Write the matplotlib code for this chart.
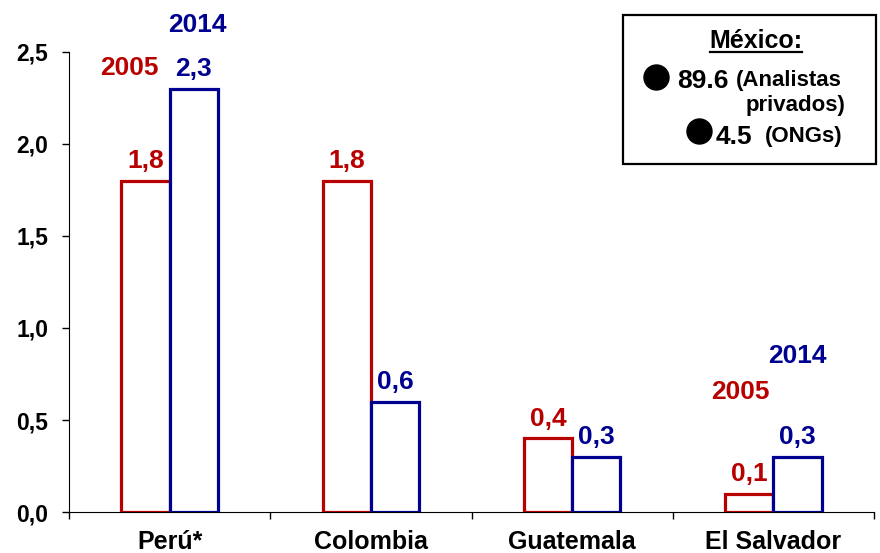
import numpy as np
import matplotlib.pyplot as plt
from matplotlib.lines import Line2D
from matplotlib.patches import Rectangle

plt.rcParams['font.family'] = ['Liberation Sans', 'DejaVu Sans']
plt.rcParams['font.weight'] = 'bold'

paises = ['Perú*', 'Colombia', 'Guatemala', 'El Salvador']
v2005 = [1.8, 1.8, 0.4, 0.1]
v2014 = [2.3, 0.6, 0.3, 0.3]
etiq_2005 = ['1,8', '1,8', '0,4', '0,1']
etiq_2014 = ['2,3', '0,6', '0,3', '0,3']
yticks = [0.0, 0.5, 1.0, 1.5, 2.0, 2.5]
ytick_labels = ['0,0', '0,5', '1,0', '1,5', '2,0', '2,5']

rojo = '#B80000'
azul = '#000090'

fig = plt.figure(figsize=(8.8, 5.53), dpi=100)
ax = fig.add_axes([0.0784, 0.0741, 0.9148, 0.832])

x = np.arange(len(paises))
w = 0.24
ax.bar(x - w / 2, v2005, w, facecolor='white', edgecolor=rojo, linewidth=2.3, zorder=3)
ax.bar(x + w / 2, v2014, w, facecolor='white', edgecolor=azul, linewidth=2.3, zorder=3)

for i in range(len(paises)):
    ax.annotate(etiq_2005[i], (x[i] - w / 2, v2005[i]), xytext=(0, 9), textcoords='offset points',
                ha='center', va='baseline', color=rojo, fontsize=19, fontweight='bold')
    ax.annotate(etiq_2014[i], (x[i] + w / 2, v2014[i]), xytext=(0, 9), textcoords='offset points',
                ha='center', va='baseline', color=azul, fontsize=19, fontweight='bold')

# series names next to the first and last group
ax.text(x[0] - w / 2 - 0.08, 2.424, '2005', color=rojo, fontsize=19, ha='center', va='center_baseline')
ax.text(x[0] + w / 2 + 0.016, 2.658, '2014', color=azul, fontsize=19, ha='center', va='center_baseline',
        clip_on=False)
ax.text(x[3] - w / 2 - 0.046, 0.668, '2005', color=rojo, fontsize=19, ha='center', va='center_baseline')
ax.text(x[3] + w / 2 - 0.003, 0.859, '2014', color=azul, fontsize=19, ha='center', va='center_baseline')

ax.set_xlim(-0.5, len(paises) - 0.5)
ax.set_ylim(0, 2.5)
ax.set_yticks(yticks)
ax.set_yticklabels(ytick_labels, fontsize=16.5, fontweight='bold')
ax.set_xticks(np.arange(len(paises) + 1) - 0.5)
ax.set_xticklabels([])
ax.set_xticks(x, minor=True)
ax.set_xticklabels(paises, minor=True, fontsize=18, fontweight='bold')
ax.tick_params(axis='x', which='minor', length=0, pad=13)
ax.tick_params(axis='x', which='major', direction='out', length=5, width=1)
ax.tick_params(axis='y', direction='out', length=5, width=1, pad=10)
for s in ['top', 'right']:
    ax.spines[s].set_visible(False)

# Mexico box
fig.patches.append(Rectangle((623 / 880, 1 - 164 / 553), 253 / 880, 149 / 553,
                             transform=fig.transFigure, facecolor='white',
                             edgecolor='black', linewidth=1.6))
fig.text(756 / 880, 1 - 39 / 553, 'México:', fontsize=18, ha='center', va='center_baseline')
fig.lines.append(Line2D([710 / 880, 802 / 880], [1 - 52 / 553, 1 - 52 / 553],
                        transform=fig.transFigure, color='black', linewidth=1.6))
fig.lines.append(Line2D([656 / 880], [1 - 77 / 553], transform=fig.transFigure,
                        marker='o', markersize=18, color='black'))
fig.lines.append(Line2D([699 / 880], [1 - 131 / 553], transform=fig.transFigure,
                        marker='o', markersize=18, color='black'))
fig.text(677 / 880, 1 - 78 / 553, '89.6', fontsize=19, ha='left', va='center_baseline')
fig.text(736 / 880, 1 - 78 / 553, '(Analistas', fontsize=16, ha='left', va='center_baseline')
fig.text(845 / 880, 1 - 103 / 553, 'privados)', fontsize=16, ha='right', va='center_baseline')
fig.text(716 / 880, 1 - 134 / 553, '4.5', fontsize=19, ha='left', va='center_baseline')
fig.text(842 / 880, 1 - 134 / 553, '(ONGs)', fontsize=16, ha='right', va='center_baseline')

fig.savefig('out.png', dpi=100)
